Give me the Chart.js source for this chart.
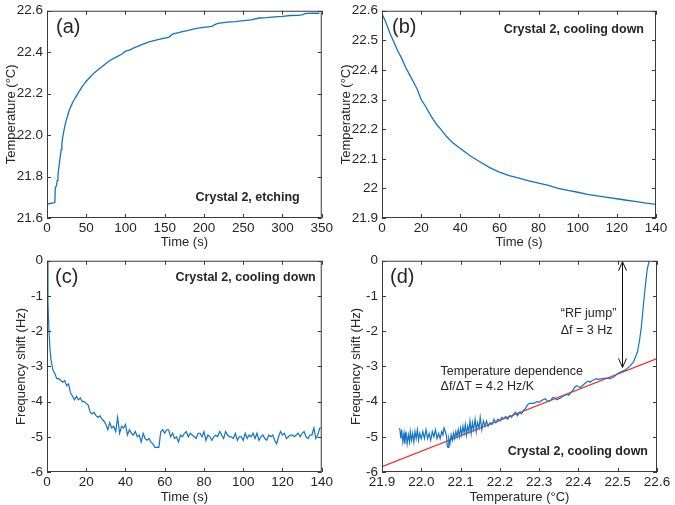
<!DOCTYPE html>
<html>
<head>
<meta charset="utf-8">
<script src="https://cdn.jsdelivr.net/npm/chart.js@4/dist/chart.umd.min.js"></script>
<style>
  body { margin: 0; background: #fff; }
  #wrap { position: relative; width: 675px; height: 505px; }
  canvas { position: absolute; }
</style>
</head>
<body>
<div id="wrap">
  <canvas id="chartA" width="337" height="250" style="left:0;top:0"></canvas>
  <canvas id="chartB" width="338" height="250" style="left:337px;top:0"></canvas>
  <canvas id="chartC" width="337" height="255" style="left:0;top:250px"></canvas>
  <canvas id="chartD" width="338" height="255" style="left:337px;top:250px"></canvas>
</div>
<script>
// (a) temperature while etching
const timeA = [0, 4, 8, 10, 10.5, 12, 13, 14, 15, 16, 17, 18, 19, 20, 22, 24, 26, 28, 30, 33, 36, 40, 45, 50, 55, 60, 65, 70, 75, 80, 85, 90, 95, 100, 105, 110, 120, 130, 140, 150, 155, 160, 170, 180, 190, 200, 210, 215, 220, 230, 240, 250, 260, 270, 280, 290, 300, 310, 320, 325, 330, 340, 347];
const tempA = [21.667, 21.670, 21.673, 21.675, 21.745, 21.755, 21.78, 21.81, 21.84, 21.87, 21.90, 21.93, 21.96, 21.99, 22.03, 22.065, 22.09, 22.115, 22.135, 22.16, 22.18, 22.205, 22.235, 22.26, 22.28, 22.30, 22.315, 22.33, 22.345, 22.36, 22.37, 22.38, 22.39, 22.405, 22.41, 22.42, 22.435, 22.45, 22.46, 22.468, 22.472, 22.487, 22.497, 22.505, 22.515, 22.52, 22.525, 22.535, 22.54, 22.545, 22.548, 22.552, 22.556, 22.565, 22.567, 22.57, 22.573, 22.577, 22.578, 22.58, 22.587, 22.588, 22.588];

// (b) temperature while cooling down
const timeB = [0, 2, 4, 6, 8, 10, 12, 14, 16, 18, 20, 22, 25, 28, 30, 33, 36, 40, 45, 50, 55, 60, 65, 70, 75, 80, 85, 90, 95, 100, 105, 110, 115, 120, 125, 130, 135, 140];
const tempB = [22.59, 22.56, 22.525, 22.495, 22.465, 22.44, 22.41, 22.385, 22.36, 22.335, 22.30, 22.28, 22.245, 22.215, 22.20, 22.175, 22.155, 22.135, 22.11, 22.09, 22.07, 22.055, 22.043, 22.035, 22.025, 22.018, 22.01, 22.0, 21.993, 21.987, 21.98, 21.975, 21.97, 21.965, 21.96, 21.955, 21.95, 21.946];

// (c) frequency shift while cooling down
const timeC = [0, 0.5, 1, 1.5, 2, 3, 4, 5, 6, 7, 8, 9, 10, 11, 12, 13, 14, 15, 16, 17, 18, 19, 20, 21, 22, 23, 24, 25, 26, 27, 28, 29, 30, 31, 32, 33, 34, 35, 36, 37, 38, 39, 40, 41, 42, 43, 44, 45, 46, 47, 48, 49, 50, 51, 52, 53, 54, 55, 56, 57, 58, 59, 60, 61, 62, 63, 64, 65, 66, 67, 68, 69, 70, 71, 72, 73, 74, 75, 76, 77, 78, 79, 80, 81, 82, 83, 84, 85, 86, 87, 88, 89, 90, 91, 92, 93, 94, 95, 96, 97, 98, 99, 100, 101, 102, 103, 104, 105, 106, 107, 108, 109, 110, 111, 112, 113, 114, 115, 116, 117, 118, 119, 120, 121, 122, 123, 124, 125, 126, 127, 128, 129, 130, 131, 132, 133, 134, 135, 136, 137, 138, 139, 140];
const shiftC = [0, -1.2, -2.0, -2.5, -2.8, -3.1, -3.2, -3.35, -3.35, -3.4, -3.45, -3.4, -3.55, -3.5, -3.75, -3.85, -3.95, -3.85, -3.95, -3.9, -4.0, -4.0, -4.05, -4.1, -4.3, -4.35, -4.3, -4.4, -4.45, -4.4, -4.5, -4.55, -4.65, -4.8, -4.6, -4.75, -4.7, -4.85, -4.45, -4.9, -4.7, -4.75, -4.65, -4.95, -4.8, -4.9, -4.95, -4.85, -5.0, -4.95, -5.15, -4.9, -5.05, -5.1, -5.05, -5.15, -5.2, -5.3, -5.3, -5.3, -4.85, -4.8, -4.9, -4.8, -4.8, -5.0, -4.9, -5.05, -5.0, -5.15, -4.95, -5.0, -4.9, -4.85, -5.0, -4.9, -4.95, -5.0, -5.05, -4.9, -4.9, -5.0, -4.85, -5.1, -4.95, -5.0, -5.1, -5.0, -4.95, -5.0, -4.85, -4.95, -5.05, -4.85, -4.95, -5.0, -5.0, -5.05, -4.9, -5.1, -5.0, -5.0, -5.1, -4.9, -5.05, -4.95, -5.0, -4.9, -5.05, -4.9, -5.1, -5.0, -4.95, -5.05, -5.1, -4.95, -5.0, -4.95, -5.1, -5.2, -5.0, -4.85, -4.95, -4.9, -5.05, -5.0, -4.95, -4.95, -5.0, -4.95, -4.9, -5.0, -4.9, -4.85, -5.0, -5.05, -4.95, -4.95, -4.75, -5.05, -4.95, -4.75, -4.75];

// (d) frequency shift against temperature, plus linear fit
const tempD = [21.945, 21.948, 21.950, 21.953, 21.956, 21.958, 21.961, 21.964, 21.967, 21.970, 21.972, 21.975, 21.978, 21.981, 21.984, 21.987, 21.990, 21.993, 21.996, 22.000, 22.004, 22.008, 22.012, 22.016, 22.020, 22.024, 22.028, 22.032, 22.036, 22.040, 22.044, 22.048, 22.052, 22.055, 22.058, 22.061, 22.064, 22.066, 22.068, 22.070, 22.073, 22.076, 22.079, 22.082, 22.085, 22.088, 22.091, 22.094, 22.097, 22.100, 22.103, 22.106, 22.109, 22.112, 22.115, 22.118, 22.121, 22.124, 22.127, 22.130, 22.133, 22.137, 22.140, 22.143, 22.147, 22.150, 22.154, 22.158, 22.162, 22.166, 22.170, 22.175, 22.180, 22.185, 22.190, 22.195, 22.200, 22.205, 22.210, 22.215, 22.220, 22.225, 22.230, 22.235, 22.240, 22.245, 22.250, 22.255, 22.260, 22.265, 22.270, 22.275, 22.280, 22.285, 22.290, 22.295, 22.300, 22.305, 22.310, 22.315, 22.320, 22.325, 22.330, 22.335, 22.340, 22.345, 22.350, 22.355, 22.360, 22.365, 22.370, 22.375, 22.380, 22.385, 22.390, 22.395, 22.400, 22.405, 22.410, 22.415, 22.420, 22.425, 22.430, 22.435, 22.440, 22.445, 22.450, 22.460, 22.470, 22.480, 22.490, 22.500, 22.510, 22.520, 22.530, 22.540, 22.550, 22.555, 22.560, 22.565, 22.570, 22.575, 22.580];
const shiftD = [-4.75, -5.05, -4.8, -5.15, -4.9, -5.2, -4.85, -5.2, -4.95, -5.15, -4.85, -5.1, -4.9, -5.15, -4.85, -5.05, -4.8, -5.1, -4.9, -5.05, -4.85, -5.05, -4.8, -5.05, -4.9, -5.1, -4.85, -5.0, -4.8, -5.05, -4.9, -5.05, -4.85, -4.95, -4.75, -4.85, -4.95, -5.25, -5.3, -5.05, -5.2, -4.95, -5.1, -4.9, -5.05, -4.85, -5.0, -4.8, -5.0, -4.75, -4.95, -4.7, -4.9, -4.65, -4.95, -4.7, -4.85, -4.55, -4.9, -4.6, -4.8, -4.5, -4.85, -4.6, -4.75, -4.45, -4.8, -4.55, -4.7, -4.55, -4.7, -4.6, -4.65, -4.5, -4.6, -4.5, -4.55, -4.45, -4.48, -4.42, -4.5, -4.4, -4.45, -4.35, -4.3, -4.4, -4.3, -4.35, -4.25, -4.2, -4.1, -4.05, -4.05, -4.05, -4.03, -4.0, -4.02, -3.98, -3.95, -3.92, -3.97, -4.0, -3.95, -3.88, -3.9, -3.95, -3.92, -3.9, -3.85, -3.82, -3.8, -3.82, -3.75, -3.7, -3.6, -3.55, -3.58, -3.6, -3.55, -3.5, -3.45, -3.42, -3.45, -3.4, -3.38, -3.35, -3.37, -3.35, -3.33, -3.35, -3.3, -3.2, -3.15, -3.1, -3.0, -2.88, -2.6, -2.3, -1.9, -1.3, -0.75, -0.25, 0.0];
const fitT = [21.9, 22.6];
const fitShift = [-5.85, -2.78];

// ticks
const ticksAX = [0, 50, 100, 150, 200, 250, 300, 350];
const ticksAY = [21.6, 21.8, 22.0, 22.2, 22.4, 22.6];
const ticksBX = [0, 20, 40, 60, 80, 100, 120, 140];
const ticksBY = [21.9, 22.0, 22.1, 22.2, 22.3, 22.4, 22.5, 22.6];
const ticksCX = [0, 20, 40, 60, 80, 100, 120, 140];
const ticksCY = [-6, -5, -4, -3, -2, -1, 0];
const ticksDX = [21.9, 22.0, 22.1, 22.2, 22.3, 22.4, 22.5, 22.6];
const ticksDY = [-6, -5, -4, -3, -2, -1, 0];

const FONT = "'Liberation Sans', Arial, Helvetica, sans-serif";
const INK = "#262626";
const BLUE = "#1274c4";
const RED = "#ff2b2b";

const pts = (xs, ys) => xs.map((v, i) => ({ x: v, y: ys[i] }));

// box + inward ticks on all four sides
const framePlugin = {
  id: "frame",
  afterDatasetsDraw(chart) {
    const { ctx, chartArea: a, scales: { x, y } } = chart;
    ctx.save();
    ctx.strokeStyle = "#3a3a3a";
    ctx.lineWidth = 1;
    ctx.beginPath();
    x.ticks.forEach(t => {
      const px = Math.round(x.getPixelForValue(t.value)) + 0.5;
      ctx.moveTo(px, a.bottom); ctx.lineTo(px, a.bottom - 4);
      ctx.moveTo(px, a.top); ctx.lineTo(px, a.top + 4);
    });
    y.ticks.forEach(t => {
      const py = Math.round(y.getPixelForValue(t.value)) + 0.5;
      ctx.moveTo(a.left, py); ctx.lineTo(a.left + 4, py);
      ctx.moveTo(a.right, py); ctx.lineTo(a.right - 4, py);
    });
    ctx.stroke();
    ctx.strokeRect(a.left + 0.5, a.top + 0.5, a.right - a.left - 1, a.bottom - a.top - 1);
    ctx.restore();
  }
};

function notes(letter, lx, ly, caption, cx, cy, extra) {
  return {
    id: "notes",
    afterDraw(chart) {
      const { ctx, chartArea: a } = chart;
      ctx.save();
      ctx.fillStyle = INK;
      ctx.textBaseline = "middle";
      ctx.font = "20px " + FONT;
      ctx.textAlign = "left";
      ctx.fillText(letter, a.left + lx, a.top + ly);
      ctx.font = "bold 12.5px " + FONT;
      ctx.textAlign = "right";
      ctx.fillText(caption, a.right - cx, cy < 0 ? a.bottom + cy : a.top + cy);
      if (extra) extra(chart, ctx);
      ctx.restore();
    }
  };
}

function scale(min, max, tickList, fmt, title, size, titlePad) {
  return {
    type: "linear",
    min: min,
    max: max,
    afterBuildTicks: s => { s.ticks = tickList.map(v => ({ value: v })); },
    afterFit: s => { if (s.isHorizontal()) s.height = size; else s.width = size; },
    grid: { display: false, drawTicks: false },
    border: { display: false },
    ticks: {
      padding: 4,
      color: INK,
      font: { family: FONT, size: 13.5, lineHeight: 1 },
      maxRotation: 0,
      autoSkip: false,
      callback: fmt
    },
    title: {
      display: true,
      text: title,
      color: INK,
      font: { family: FONT, size: 13 },
      padding: titlePad
    }
  };
}

function makeChart(id, datasets, xs, ys, pad, plugin) {
  return new Chart(document.getElementById(id), {
    type: "line",
    data: { datasets: datasets },
    options: {
      responsive: false,
      animation: false,
      layout: { padding: pad },
      plugins: { legend: { display: false }, tooltip: { enabled: false } },
      elements: { point: { radius: 0 }, line: { tension: 0 } },
      scales: { x: xs, y: ys }
    },
    plugins: [framePlugin, plugin]
  });
}

const intFmt = v => String(Math.round(v));
const oneDec = v => v.toFixed(1);
const trimDec = v => String(parseFloat(v.toFixed(1)));

// (a)
makeChart("chartA",
  [{ data: pts(timeA, tempA), borderColor: BLUE, borderWidth: 1.3 }],
  scale(0, 350, ticksAX, intFmt, "Time (s)", 32, { top: 0, bottom: 0 }),
  scale(21.6, 22.6, ticksAY, oneDec, "Temperature (°C)", 47, { top: 4, bottom: 0 }),
  { top: 7, right: 15, left: 0, bottom: 0 },
  notes("(a)", 9, 17, "Crystal 2, etching", 22, -20));

// (b)
makeChart("chartB",
  [{ data: pts(timeB, tempB), borderColor: BLUE, borderWidth: 1.3 }],
  scale(0, 140, ticksBX, intFmt, "Time (s)", 32, { top: 0, bottom: 0 }),
  scale(21.9, 22.6, ticksBY, trimDec, "Temperature (°C)", 45, { top: 2, bottom: 0 }),
  { top: 7, right: 19, left: 0, bottom: 0 },
  notes("(b)", 10, 17, "Crystal 2, cooling down", 12, 19));

// (c)
makeChart("chartC",
  [{ data: pts(timeC, shiftC), borderColor: BLUE, borderWidth: 1.2 }],
  scale(0, 140, ticksCX, intFmt, "Time (s)", 33, { top: 0, bottom: 0 }),
  scale(-6, 0, ticksCY, intFmt, "Frequency shift (Hz)", 47, { top: 14, bottom: 0 }),
  { top: 10, right: 15, left: 0, bottom: 0 },
  notes("(c)", 8, 17, "Crystal 2, cooling down", 6, 17));

// (d)
const arrowT = 22.511, arrowTop = 0, arrowBottom = -3.03;
makeChart("chartD",
  [
    { data: pts(tempD, shiftD), borderColor: BLUE, borderWidth: 1.2 },
    { data: pts(fitT, fitShift), borderColor: RED, borderWidth: 1.2 }
  ],
  scale(21.9, 22.6, ticksDX, oneDec, "Temperature (°C)", 33, { top: 0, bottom: 0 }),
  scale(-6, 0, ticksDY, intFmt, "Frequency shift (Hz)", 45, { top: 12, bottom: 0 }),
  { top: 10, right: 18, left: 0, bottom: 0 },
  notes("(d)", 8, 17, "Crystal 2, cooling down", 9, -20, (chart, ctx) => {
    const { x, y } = chart.scales;
    const px = Math.round(x.getPixelForValue(arrowT)) + 0.5;
    const y1 = y.getPixelForValue(arrowTop) + 1;
    const y2 = y.getPixelForValue(arrowBottom);
    ctx.strokeStyle = "#111";
    ctx.lineWidth = 1;
    ctx.beginPath();
    ctx.moveTo(px, y1); ctx.lineTo(px, y2);
    ctx.moveTo(px - 4, y1 + 9); ctx.lineTo(px, y1); ctx.lineTo(px + 4, y1 + 9);
    ctx.moveTo(px - 4, y2 - 9); ctx.lineTo(px, y2); ctx.lineTo(px + 4, y2 - 9);
    ctx.stroke();
    ctx.fillStyle = INK;
    ctx.font = "12.5px " + FONT;
    ctx.textAlign = "left";
    ctx.textBaseline = "middle";
    ctx.fillText("\u201CRF jump\u201D", x.getPixelForValue(22.355), y.getPixelForValue(-1.51));
    ctx.fillText("\u0394f = 3 Hz", x.getPixelForValue(22.355), y.getPixelForValue(-1.98));
    ctx.fillText("Temperature dependence", x.getPixelForValue(22.049), y.getPixelForValue(-3.16));
    ctx.fillText("\u0394f/\u0394T = 4.2 Hz/K", x.getPixelForValue(22.049), y.getPixelForValue(-3.58));
  }));
</script>
</body>
</html>
